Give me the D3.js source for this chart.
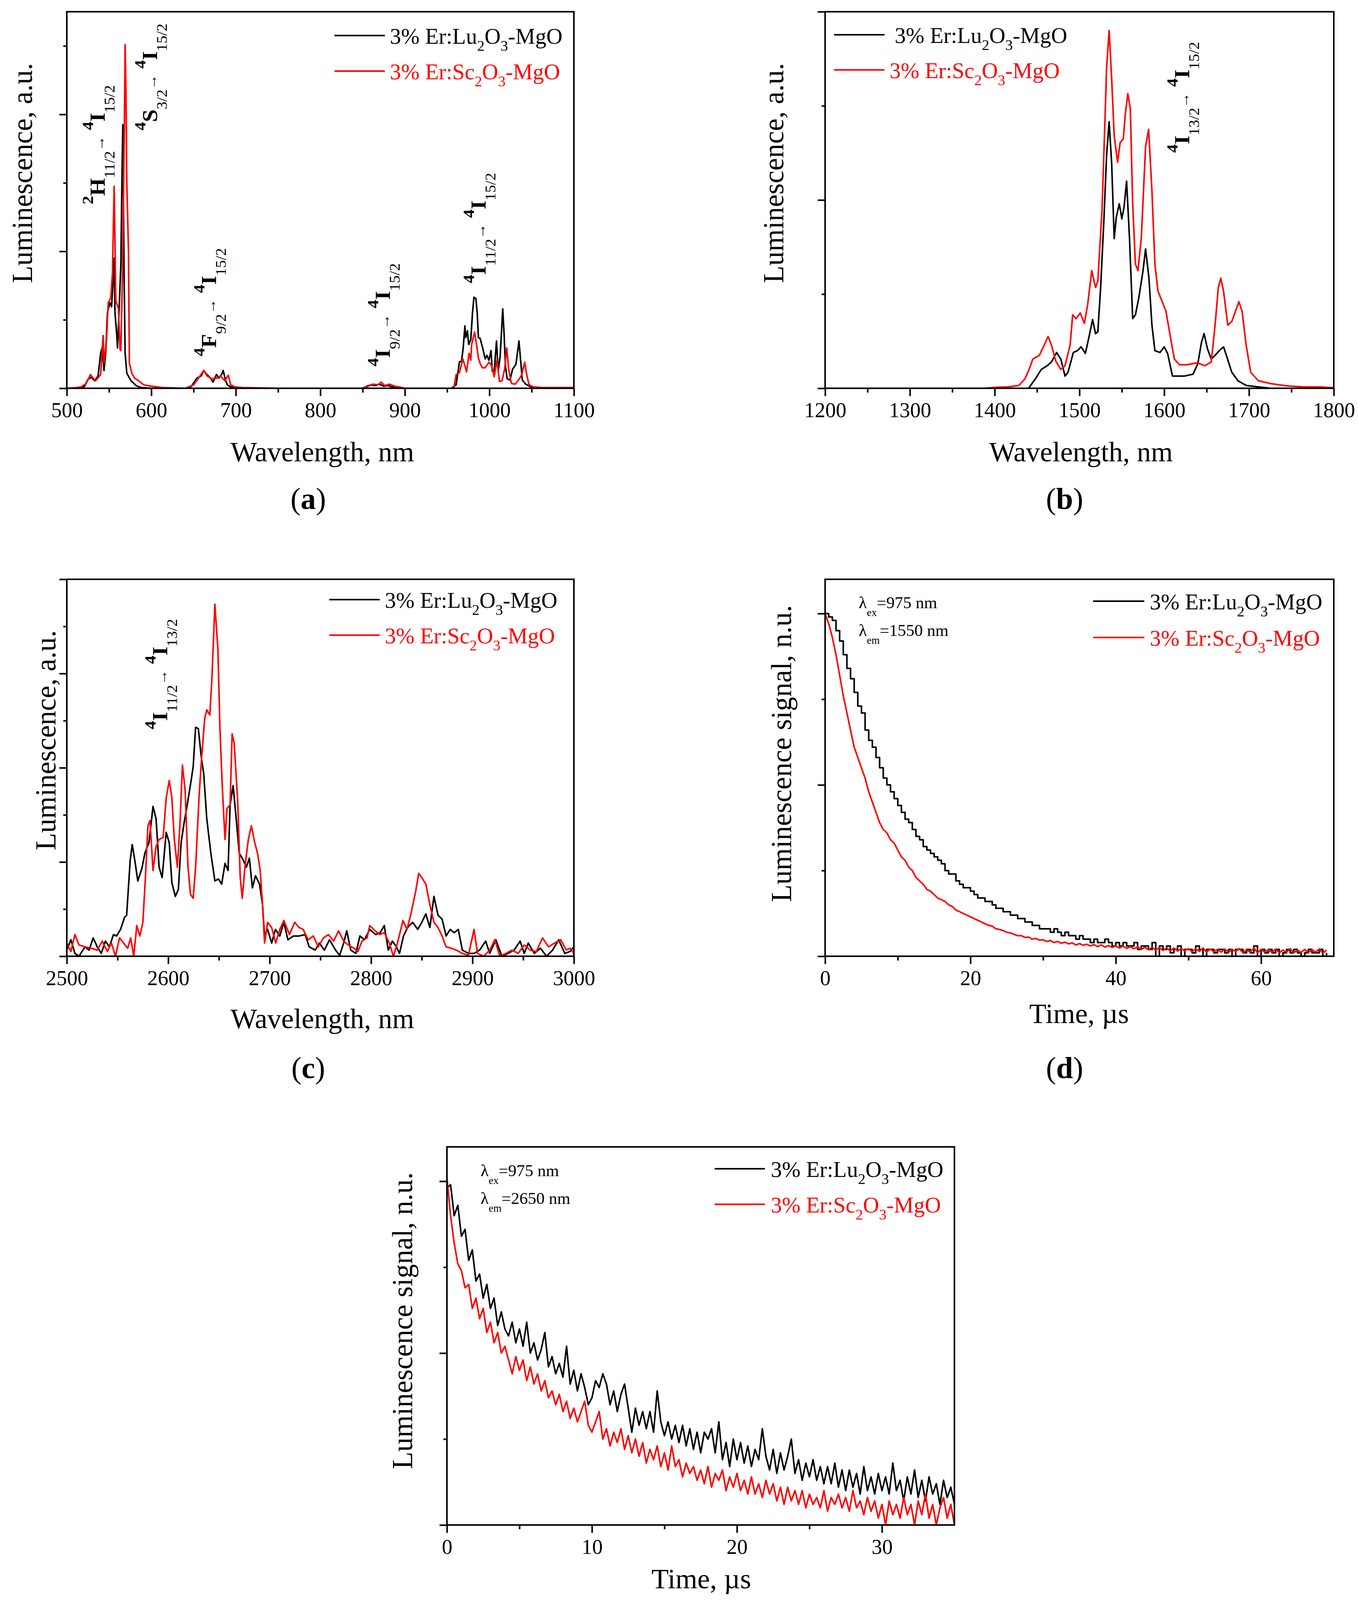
<!DOCTYPE html>
<html>
<head>
<meta charset="utf-8">
<script src="https://cdn.jsdelivr.net/npm/d3@7"></script>
<style>
  body { margin: 0; background: #fff; }
  svg { display: block; }
</style>
</head>
<body>
<svg id="fig" width="3476" height="4240"></svg>
<script>
// ---- data (y in tick units of each panel) ----

// (a) visible / NIR spectrum, [wavelength nm, intensity]
const aLu = [[500,0],[517,0],[521,0.03],[525,0.13],[529,0.16],[533,0.11],[537,0.18],[540,0.51],[542,0.6],[544,0.26],[546,0.51],[548,1.1],[551,1.25],[553,1.19],[555,1.65],[556,1.9],[557,1.1],[559,0.8],[560,0.59],[562,1.17],[564,1.83],[565.5,3.3],[566.3,3.85],[567,2.75],[567.8,1.65],[569,0.51],[571,0.22],[576,0.11],[582,0.04],[588,0.01],[600,0],[645,0],[648,0.04],[654,0.15],[659,0.18],[662,0.26],[665,0.21],[670,0.15],[673,0.09],[677,0.2],[680,0.15],[683,0.2],[685,0.26],[688,0.11],[690,0.05],[694,0.02],[702,0],[850,0],[855,0.03],[860,0.05],[865,0.04],[870,0.06],[875,0.03],[880,0.04],[885,0.02],[890,0.01],[895,0],[955,0],[960.7,0.05],[963,0.25],[964.6,0.39],[967,0.39],[969,0.59],[971,0.91],[972,0.74],[974,0.84],[975.5,0.64],[978,0.71],[980,1.1],[981.7,1.33],[984,1.31],[985.6,1.1],[987,0.74],[989,0.73],[992,0.59],[995,0.43],[997,0.48],[999.5,0.41],[1001.9,0.55],[1003.4,0.25],[1005.7,0.25],[1008.4,0.69],[1010.4,0.25],[1012.7,0.46],[1015.8,1.16],[1017.4,0.79],[1019,0.33],[1021,0.14],[1024.4,0.12],[1027.5,0.28],[1031.4,0.35],[1035,0.69],[1036.8,0.43],[1039,0.12],[1043,0.06],[1049,0.02],[1055,0],[1100,0]];
const aSc = [[500,0],[512,0.01],[517,0.02],[523,0.07],[528,0.2],[531,0.15],[534,0.11],[540,0.2],[543,0.77],[544,0.37],[547,0.7],[549,1.25],[552,1.32],[554,1.68],[556,2.95],[557,2.16],[558,1.28],[561,1.17],[563,0.57],[564,0.55],[566,1.76],[568,3.7],[569,5.02],[570,4.36],[571,3.0],[573,2.0],[574,0.37],[577,0.22],[580,0.15],[585,0.11],[591,0.05],[600,0.03],[613,0.01],[640,0],[650,0.05],[656,0.15],[662,0.26],[666,0.18],[671,0.14],[678,0.15],[682,0.18],[687,0.11],[691,0.19],[694,0.05],[699,0.02],[708,0.01],[750,0],[850,0],[855,0.02],[862,0.06],[868,0.05],[872,0.09],[876,0.04],[882,0.06],[888,0.03],[893,0.02],[900,0],[955,0],[958,0.01],[960.7,0.2],[964.6,0.23],[968.5,0.43],[971,0.33],[973,0.24],[976,0.51],[978,0.41],[979,0.64],[982.5,0.82],[984.8,0.64],[987,0.44],[989.4,0.35],[991.8,0.3],[995,0.3],[999.5,0.38],[1002.6,0.33],[1005.7,0.17],[1008.9,0.41],[1012,0.1],[1015,0.11],[1018,0.28],[1020.5,0.59],[1022.8,0.28],[1026,0.07],[1030.6,0.06],[1034.5,0.12],[1038,0.19],[1041.8,0.38],[1044.6,0.17],[1047,0.05],[1052,0.02],[1063,0.01],[1100,0.01]];

// (b) 1.5 um band
const bLu = [[1200,0],[1440,0],[1448,0.1],[1455,0.2],[1462,0.24],[1467,0.28],[1473,0.38],[1478,0.31],[1483,0.13],[1486.5,0.17],[1492.8,0.38],[1497.6,0.4],[1502,0.44],[1507,0.37],[1511.6,0.56],[1515.5,0.73],[1519,0.58],[1521.7,0.6],[1525,1.07],[1529,1.82],[1532,2.47],[1535,2.83],[1538,2.39],[1541,1.59],[1543.5,1.82],[1547,1.96],[1550,1.8],[1552.7,1.93],[1555.6,2.2],[1559,1.6],[1562.8,0.74],[1566,0.78],[1570,0.96],[1575,1.25],[1578,1.48],[1582,1.17],[1585.5,0.67],[1589,0.4],[1595,0.38],[1600,0.44],[1604,0.37],[1609.7,0.13],[1617,0.13],[1624,0.13],[1634,0.15],[1639.6,0.26],[1644,0.49],[1647,0.58],[1651,0.42],[1655.5,0.31],[1660,0.35],[1665,0.4],[1670,0.44],[1674,0.33],[1679.7,0.17],[1687,0.08],[1696.6,0.03],[1711,0.015],[1726,0],[1800,0]];
const bSc = [[1200,0],[1387,0],[1402,0.01],[1416,0.015],[1428.5,0.03],[1435.7,0.1],[1440.6,0.2],[1445,0.31],[1452.7,0.35],[1457.5,0.44],[1463,0.55],[1467,0.46],[1472,0.29],[1478,0.2],[1483,0.24],[1489,0.46],[1492,0.78],[1496,0.74],[1501,0.8],[1505.8,0.69],[1509.7,0.89],[1514.5,1.25],[1519,1.07],[1521.7,1.14],[1526.6,1.89],[1530.4,2.93],[1532,3.4],[1535,3.8],[1538,3.29],[1541,2.68],[1545,2.4],[1548,2.61],[1551.7,2.65],[1554,2.9],[1557,3.13],[1560,2.97],[1562.8,1.96],[1566,1.32],[1569,1.25],[1573,1.6],[1578,2.57],[1581.6,2.75],[1585.5,2.1],[1589,1.32],[1592.7,1.03],[1597.6,0.92],[1602,0.82],[1607,0.56],[1612,0.31],[1618,0.25],[1626.6,0.25],[1638.6,0.27],[1648,0.24],[1655.5,0.28],[1660,0.67],[1663.8,1.07],[1666.7,1.17],[1670,1.03],[1675,0.67],[1679.7,0.71],[1684.5,0.83],[1688,0.92],[1691.8,0.82],[1696.6,0.46],[1702,0.17],[1711,0.08],[1725.6,0.05],[1745,0.025],[1764,0.015],[1783.6,0.015],[1800,0.005]];

// (c) 2.7 um band
const cLu = [[2500,0.13],[2504,0.35],[2508,0.06],[2512,0],[2518,0.2],[2522,0.13],[2526,0.39],[2530,0.2],[2534,0.06],[2538,0.32],[2542,0.2],[2546,0.46],[2549,0.43],[2553,0.57],[2557,0.83],[2559,0.87],[2562.5,2.04],[2564.5,2.37],[2567,2.04],[2570,1.6],[2574,1.86],[2577,2.19],[2581,2.41],[2585,3.18],[2588,2.92],[2591,1.89],[2594,1.67],[2598,2.63],[2601,2.41],[2603.6,1.56],[2607,1.27],[2610,1.42],[2612.7,2.41],[2615.5,2.81],[2618.7,3.21],[2622,3.65],[2624.6,4.02],[2627,4.86],[2629.7,4.83],[2632.5,4.24],[2635,3.87],[2638,2.92],[2642,2.19],[2646,1.6],[2649.5,1.64],[2652.7,1.53],[2656,1.97],[2659,1.82],[2661,3.21],[2664,3.62],[2667,2.92],[2670,2.19],[2674,2.04],[2677,1.89],[2680,2.08],[2683,1.45],[2686,1.71],[2690,1.53],[2693,1.09],[2695,0.43],[2698,0.57],[2702,0.28],[2705.7,0.57],[2710,0.43],[2714,0.72],[2718,0.35],[2723.5,0.43],[2729,0.43],[2735,0.46],[2739,0.2],[2745,0.13],[2749,0.28],[2754,0.13],[2759,0.35],[2765,0.13],[2769,0.02],[2773,0.28],[2776,0.54],[2780,0.13],[2785,0.06],[2789,0.43],[2793.5,0.35],[2798.7,0.57],[2804.6,0.46],[2809,0.5],[2813,0.65],[2817,0.13],[2821,0.32],[2825,0.2],[2828,0.06],[2832,0.43],[2836,0.61],[2841,0.72],[2846,0.57],[2850,0.72],[2854,0.9],[2858,0.61],[2862,1.27],[2866,0.87],[2870,0.79],[2874,0.43],[2878,0.57],[2882,0.5],[2886,0.57],[2890,0.13],[2896,0.06],[2901.5,0.06],[2907,0.13],[2913,0.32],[2917,0.06],[2923,0.35],[2929,0],[2935,0.06],[2941,0.13],[2947,0.32],[2951,0.06],[2955,0.28],[2961,0.06],[2967,0.17],[2973,0],[2979,0.13],[2985,0.35],[2991,0.06],[2996,0.1],[3000,0.2]];
const cSc = [[2500,0.28],[2504,0.1],[2508,0.46],[2512,0.24],[2518,0.2],[2524,0.17],[2530,0.13],[2535,0.32],[2540,0.1],[2544,0.28],[2548,0],[2552,0.39],[2556,0.28],[2560,0.17],[2563,0.39],[2566,0],[2569,0.65],[2572,0.43],[2575,0.72],[2577.5,1.67],[2580,2.77],[2582,2.88],[2585,1.82],[2588,2.33],[2591,2.48],[2595,2.52],[2598,3.36],[2601,3.73],[2603.6,3.36],[2606,2.48],[2609,1.89],[2611.5,2.77],[2614,4.06],[2616.7,3.51],[2619.5,1.89],[2622,1.31],[2624.6,1.23],[2627,1.89],[2630.5,3.43],[2633,4.24],[2636,5.05],[2638,5.23],[2641,5.12],[2643,5.85],[2646,7.47],[2649,6.51],[2651,4.83],[2653.5,3.51],[2656,2.48],[2658,3.14],[2661,3.21],[2663,4.72],[2665,4.53],[2668.5,3.29],[2671,1.67],[2673,1.23],[2675.6,1.89],[2679,2.48],[2682,2.77],[2685,2.44],[2688,2.19],[2690.7,1.82],[2693,1.09],[2695,0.28],[2698,0.72],[2702,0.61],[2706,0.28],[2710,0.57],[2714,0.76],[2719.5,0.46],[2724.7,0.72],[2729,0.61],[2733,0.57],[2738,0.35],[2743,0.43],[2748,0.2],[2753,0.39],[2758,0.46],[2763,0.32],[2768,0.54],[2773,0.32],[2777.5,0.24],[2783,0.17],[2787,0.1],[2791,0.32],[2796,0.39],[2798.7,0.65],[2804,0.54],[2808.5,0.46],[2813,0.5],[2818,0.28],[2822,0],[2826,0.28],[2831.5,0.76],[2835.4,0.57],[2839,0.87],[2844,1.38],[2847,1.76],[2850,1.67],[2854,1.53],[2858,1.09],[2862,0.72],[2866,0.61],[2870,0.43],[2874,0.2],[2879,0.17],[2884,0.13],[2890,0.06],[2896,0.02],[2901.5,0.57],[2905,0.06],[2911,0],[2917,0.13],[2922,0.35],[2927,0],[2933,0.06],[2939,0.13],[2945,0.06],[2951,0.24],[2957,0.13],[2963,0.1],[2969,0.39],[2975,0.2],[2981,0.28],[2987,0.35],[2992.5,0.13],[2996,0.17],[3000,0.06]];

// (d) decay at 1550 nm, sampled every 0.5 us from t = 0
const dStep = 0.5;
const dLu = [1.00,0.99,0.98,0.95,0.92,0.88,0.84,0.81,0.77,0.73,
  0.71,0.66,0.63,0.61,0.58,0.55,0.52,0.50,0.48,0.46,
  0.44,0.42,0.40,0.39,0.37,0.35,0.34,0.32,0.31,0.30,
  0.29,0.28,0.27,0.25,0.24,0.24,0.22,0.21,0.20,0.20,
  0.19,0.18,0.17,0.17,0.16,0.16,0.15,0.14,0.14,0.13,
  0.13,0.12,0.12,0.11,0.11,0.10,0.10,0.09,0.09,0.08,
  0.08,0.08,0.07,0.08,0.07,0.06,0.07,0.06,0.06,0.05,
  0.06,0.05,0.05,0.04,0.05,0.04,0.04,0.05,0.04,0.03,
  0.04,0.03,0.04,0.03,0.03,0.04,0.02,0.03,0.03,0.02,
  0.04,0.00,0.03,0.02,0.03,0.01,0.02,0.03,0.00,0.02,
  0.02,0.01,0.03,0.02,0.00,0.02,0.02,0.01,0.02,0.02,
  0.01,0.02,0.00,0.02,0.02,0.01,0.02,0.01,0.03,0.00,
  0.02,0.01,0.02,0.01,0.02,0.00,0.01,0.02,0.01,0.02,
  0.01,0.00,0.01,0.02,0.01,0.01,0.02,0.00,0.01];
const dSc = [1.00,0.97,0.93,0.88,0.82,0.76,0.71,0.66,0.61,0.58,
  0.55,0.52,0.48,0.45,0.42,0.39,0.37,0.36,0.34,0.33,
  0.31,0.29,0.28,0.26,0.25,0.23,0.22,0.21,0.195,0.19,
  0.18,0.17,0.165,0.16,0.15,0.145,0.135,0.13,0.125,0.12,
  0.115,0.11,0.105,0.10,0.095,0.09,0.088,0.08,0.078,0.075,
  0.07,0.068,0.064,0.06,0.06,0.055,0.056,0.05,0.052,0.047,
  0.048,0.043,0.046,0.04,0.043,0.038,0.041,0.036,0.039,0.033,
  0.037,0.032,0.035,0.03,0.034,0.028,0.033,0.027,0.031,0.026,
  0.03,0.024,0.03,0.023,0.028,0.022,0.027,0.02,0.026,0.019,
  0.026,0.018,0.025,0.017,0.024,0.016,0.024,0.015,0.023,0.016,
  0.022,0.013,0.022,0.014,0.024,0.012,0.021,0.013,0.02,0.012,
  0.021,0.011,0.02,0.014,0.022,0.01,0.019,0.012,0.024,0.01,
  0.02,0.012,0.019,0.011,0.021,0.01,0.018,0.012,0.022,0.01,
  0.018,0.011,0.02,0.01,0.019,0.012,0.021,0.009,0.018];

// (e) decay at 2650 nm, sampled every 0.25 us from t = 0
const eStep = 0.25;
const eLu = [0.98,0.99,0.90,0.93,0.84,0.86,0.77,0.80,0.71,0.73,
  0.66,0.70,0.63,0.66,0.58,0.62,0.57,0.55,0.59,0.53,
  0.57,0.52,0.59,0.50,0.53,0.48,0.51,0.56,0.46,0.49,
  0.44,0.47,0.43,0.52,0.41,0.45,0.39,0.44,0.40,0.35,
  0.37,0.42,0.40,0.44,0.41,0.35,0.39,0.33,0.38,0.41,
  0.34,0.27,0.34,0.29,0.33,0.28,0.33,0.27,0.39,0.30,
  0.26,0.30,0.25,0.29,0.24,0.29,0.23,0.28,0.22,0.27,
  0.21,0.27,0.25,0.28,0.21,0.30,0.19,0.24,0.17,0.25,
  0.19,0.24,0.18,0.23,0.17,0.22,0.19,0.28,0.20,0.16,
  0.22,0.15,0.21,0.16,0.20,0.25,0.15,0.19,0.13,0.18,
  0.14,0.19,0.13,0.17,0.12,0.17,0.12,0.18,0.11,0.16,
  0.10,0.16,0.11,0.15,0.09,0.17,0.10,0.14,0.09,0.15,
  0.10,0.14,0.09,0.18,0.10,0.13,0.07,0.14,0.09,0.16,
  0.08,0.13,0.07,0.14,0.09,0.12,0.06,0.13,0.08,0.11,
  0.06];
const eSc = [1.01,0.90,0.82,0.76,0.74,0.69,0.70,0.63,0.66,0.60,
  0.63,0.56,0.59,0.53,0.56,0.50,0.52,0.48,0.44,0.49,
  0.45,0.48,0.42,0.46,0.41,0.44,0.39,0.42,0.37,0.39,
  0.35,0.38,0.33,0.36,0.31,0.34,0.30,0.33,0.36,0.29,
  0.27,0.30,0.33,0.25,0.28,0.23,0.27,0.24,0.28,0.22,
  0.26,0.21,0.25,0.20,0.24,0.18,0.22,0.19,0.23,0.17,
  0.21,0.16,0.23,0.17,0.19,0.14,0.18,0.15,0.17,0.13,
  0.16,0.12,0.17,0.11,0.15,0.13,0.16,0.10,0.14,0.11,
  0.15,0.10,0.13,0.09,0.14,0.09,0.12,0.08,0.13,0.09,
  0.12,0.07,0.11,0.06,0.11,0.07,0.10,0.06,0.10,0.05,
  0.09,0.06,0.08,0.05,0.10,0.04,0.08,0.06,0.09,0.05,
  0.08,0.04,0.10,0.05,0.07,0.03,0.08,0.04,0.07,0.02,
  0.06,0.00,0.07,0.03,0.06,0.02,0.08,0.03,0.06,0.00,
  0.07,0.03,0.09,0.02,0.06,0.00,0.05,0.08,0.02,0.06,
  0.00];

const hosts = ["Lu", "Sc"];
const seriesColors = ["#000000", "#ff0000"];

// ---- drawing ----
const FONT = "'Liberation Serif', 'Times New Roman', serif";
const fig = d3.select("#fig").attr("font-family", FONT);
fig.append("rect").attr("width", 3476).attr("height", 4240).attr("fill", "#fff");

const toPairs = (vals, step) => vals.map((v, i) => [i * step, v]);

const panels = [
  { id: "a", box: [171, 30, 1469, 994], xDomain: [500, 1100], yDomain: [0, 5.5],
    xMajor: d3.range(500, 1101, 100), xMinor: d3.range(550, 1100, 100),
    yMajor: [0, 2, 4], yMinor: [1, 3, 5], series: [aLu, aSc], steps: [false, false],
    legend: { x1: 856, x2: 985, ys: [91, 182], tx: [998, 998] },
    xTitle: ["Wavelength, nm", 825, 1181], yTitle: ["Luminescence, a.u.", 82, 443],
    tag: ["a", 789, 1303] },
  { id: "b", box: [2112, 30, 3414, 994], xDomain: [1200, 1800], yDomain: [0, 4],
    xMajor: d3.range(1200, 1801, 100), xMinor: d3.range(1250, 1800, 100),
    yMajor: [0, 2, 4], yMinor: [1, 3], series: [bLu, bSc], steps: [false, false],
    legend: { x1: 2135, x2: 2264, ys: [89, 179], tx: [2290, 2277] },
    xTitle: ["Wavelength, nm", 2767, 1181], yTitle: ["Luminescence, a.u.", 2005, 443],
    tag: ["b", 2725, 1303] },
  { id: "c", box: [171, 1483, 1469, 2448], xDomain: [2500, 3000], yDomain: [0, 8],
    xMajor: d3.range(2500, 3001, 100), xMinor: d3.range(2550, 3000, 100),
    yMajor: [0, 2, 4, 6, 8], yMinor: [1, 3, 5, 7], series: [cLu, cSc], steps: [false, false],
    legend: { x1: 843, x2: 972, ys: [1535, 1626], tx: [985, 985] },
    xTitle: ["Wavelength, nm", 825, 2632], yTitle: ["Luminescence, a.u.", 142, 1895],
    tag: ["c", 789, 2760] },
  { id: "d", box: [2112, 1483, 3414, 2448], xDomain: [0, 70], yDomain: [0, 1.1],
    xMajor: [0, 20, 40, 60], xMinor: [10, 30, 50],
    yMajor: [0, 0.5, 1], yMinor: [0.25, 0.75], series: [toPairs(dLu, dStep), toPairs(dSc, dStep)], steps: [true, false],
    legend: { x1: 2798, x2: 2929, ys: [1539, 1632], tx: [2943, 2943] },
    xTitle: ["Time, \u00b5s", 2762, 2619], yTitle: ["Luminescence signal, n.u.", 2025, 1929],
    lambda: { x: 2198, ys: [1557, 1628], em: "1550" },
    tag: ["d", 2725, 2760] },
  { id: "e", box: [1144, 2936, 2443, 3904], xDomain: [0, 35], yDomain: [0, 1.1],
    xMajor: [0, 10, 20, 30], xMinor: [5, 15, 25],
    yMajor: [0, 0.5, 1], yMinor: [0.25, 0.75], series: [toPairs(eLu, eStep), toPairs(eSc, eStep)], steps: [false, false],
    legend: { x1: 1829, x2: 1958, ys: [2992, 3083], tx: [1973, 1973] },
    xTitle: ["Time, \u00b5s", 1795, 4066], yTitle: ["Luminescence signal, n.u.", 1055, 3381],
    lambda: { x: 1230, ys: [3011, 3082], em: "2650" },
    tag: ["e", 1754, 4208] }
];

// transition labels: baseline x, start y (text reads bottom to top)
const ANN = {
  main: { size: 54, weight: "bold", off: 0 },
  sup: { size: 40, weight: "bold", off: -30 },
  sub: { size: 37, weight: "normal", off: 25 },
  arr: { size: 36, weight: "normal", off: -1 }
};
const trans = (up, upSub, lo, loSub) => [
  ["4", "sup"], [up, "main"], [upSub, "sub"], ["\u2192", "arr"], [" ", "main"],
  ["4", "sup"], [lo, "main"], [loSub, "sub"]];
const annotations = [
  { x: 268, y: 523, parts: [["2", "sup"], ["H", "main"], ["11/2", "sub"], ["\u2192", "arr"], [" ", "main"], ["4", "sup"], ["I", "main"], ["15/2", "sub"]] },
  { x: 402, y: 334, parts: trans("S", "3/2", "I", "15/2") },
  { x: 553, y: 912, parts: trans("F", "9/2", "I", "15/2") },
  { x: 998, y: 938, parts: trans("I", "9/2", "I", "15/2") },
  { x: 1243, y: 725, parts: trans("I", "11/2", "I", "15/2") },
  { x: 3044, y: 391, parts: trans("I", "13/2", "I", "15/2") },
  { x: 428, y: 1867, parts: trans("I", "11/2", "I", "13/2") }
];
const ANN_STRETCH = 1.08;

function hostLabel(text, host) {
  text.append("tspan").text("3% Er:" + host);
  text.append("tspan").attr("font-size", 38).attr("dy", 18).text("2");
  text.append("tspan").attr("dy", -18).text("O");
  text.append("tspan").attr("font-size", 38).attr("dy", 18).text("3");
  text.append("tspan").attr("dy", -18).text("-MgO");
}

function styleAxis(sel, fontSize) {
  sel.select(".domain").remove();
  sel.selectAll(".tick line").attr("stroke", "#000").attr("stroke-width", 4);
  sel.selectAll("text").attr("font-size", fontSize).attr("font-family", FONT).attr("fill", "#000");
}

function drawPanel(p) {
  const [L, T, R, B] = p.box;
  const g = fig.append("g");
  const x = d3.scaleLinear(p.xDomain, [L, R]);
  const y = d3.scaleLinear(p.yDomain, [B, T]);

  g.append("clipPath").attr("id", "clip-" + p.id)
    .append("rect").attr("x", L).attr("y", T).attr("width", R - L).attr("height", B - T);

  // axes
  g.append("g").attr("transform", `translate(0,${B})`)
    .call(d3.axisBottom(x).tickValues(p.xMinor).tickSize(11).tickFormat(""))
    .call(s => styleAxis(s, 54));
  g.append("g").attr("transform", `translate(0,${B})`)
    .call(d3.axisBottom(x).tickValues(p.xMajor).tickSize(20).tickPadding(16).tickFormat(d3.format("d")))
    .call(s => styleAxis(s, 54));
  g.append("g").attr("transform", `translate(${L},0)`)
    .call(d3.axisLeft(y).tickValues(p.yMinor).tickSize(9).tickFormat(""))
    .call(s => styleAxis(s, 54));
  g.append("g").attr("transform", `translate(${L},0)`)
    .call(d3.axisLeft(y).tickValues(p.yMajor).tickSize(19).tickFormat(""))
    .call(s => styleAxis(s, 54));

  // curves
  p.series.forEach((data, i) => {
    const line = d3.line().x(d => x(d[0])).y(d => y(d[1]))
      .curve(p.steps[i] ? d3.curveStepAfter : d3.curveLinear);
    g.append("path").datum(data)
      .attr("clip-path", `url(#clip-${p.id})`)
      .attr("fill", "none")
      .attr("stroke", seriesColors[i])
      .attr("stroke-width", 4)
      .attr("stroke-linejoin", "round")
      .attr("d", line);
  });

  // frame
  g.append("rect").attr("x", L).attr("y", T).attr("width", R - L).attr("height", B - T)
    .attr("fill", "none").attr("stroke", "#000").attr("stroke-width", 4);

  // legend
  hosts.forEach((h, i) => {
    const ly = p.legend.ys[i];
    g.append("line").attr("x1", p.legend.x1).attr("x2", p.legend.x2)
      .attr("y1", ly).attr("y2", ly).attr("stroke", seriesColors[i]).attr("stroke-width", 4);
    const t = g.append("text").attr("x", p.legend.tx[i]).attr("y", ly + 21)
      .attr("font-size", 57).attr("fill", seriesColors[i]);
    hostLabel(t, h);
  });

  // excitation / emission note
  if (p.lambda) {
    [["ex", "975"], ["em", p.lambda.em]].forEach(([k, v], i) => {
      const t = g.append("text").attr("x", p.lambda.x).attr("y", p.lambda.ys[i]).attr("font-size", 43);
      t.append("tspan").text("\u03bb");
      t.append("tspan").attr("font-size", 27).attr("dy", 20).text(k);
      t.append("tspan").attr("dy", -20).text("=" + v + " nm");
    });
  }

  // titles
  g.append("text").attr("x", p.xTitle[1]).attr("y", p.xTitle[2])
    .attr("text-anchor", "middle").attr("font-size", 72).text(p.xTitle[0]);
  g.append("text").attr("transform", `translate(${p.yTitle[1]},${p.yTitle[2]}) rotate(-90)`)
    .attr("text-anchor", "middle").attr("font-size", 73).text(p.yTitle[0]);

  const tag = g.append("text").attr("x", p.tag[1]).attr("y", p.tag[2])
    .attr("text-anchor", "middle").attr("font-size", 78);
  tag.append("tspan").text("(");
  tag.append("tspan").attr("font-weight", "bold").text(p.tag[0]);
  tag.append("tspan").text(")");
}

panels.forEach(drawPanel);

// transition labels, rotated
annotations.forEach(a => {
  const t = fig.append("text")
    .attr("transform", `translate(${a.x},${a.y}) rotate(-90) scale(${ANN_STRETCH},1)`)
    .attr("fill", "#000");
  let cur = 0;
  a.parts.forEach(([txt, kind]) => {
    const st = ANN[kind];
    t.append("tspan").attr("font-size", st.size).attr("font-weight", st.weight)
      .attr("dy", st.off - cur).text(txt);
    cur = st.off;
  });
});
</script>
</body>
</html>
